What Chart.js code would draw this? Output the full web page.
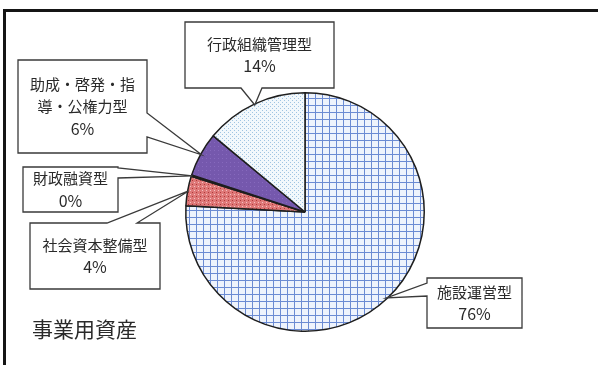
<!DOCTYPE html>
<html>
<head>
<meta charset="utf-8">
<script src="https://cdn.jsdelivr.net/npm/chart.js@4.4.1/dist/chart.umd.min.js"></script>
<style>
html,body{margin:0;padding:0;background:#fff;}
#wrap{position:relative;width:598px;height:365px;}
</style>
</head>
<body>
<div id="wrap"><canvas id="c" width="598" height="365"></canvas></div>
<script>
// ---- data ----
const categories = ['施設運営型', '社会資本整備型', '財政融資型', '助成・啓発・指導・公権力型', '行政組織管理型'];
const values = [76, 4, 0.2, 6, 14];
const chartTitle = '事業用資産';

// ---- patterns ----
function makePattern(size, draw) {
  const c = document.createElement('canvas');
  c.width = size; c.height = size;
  const g = c.getContext('2d');
  draw(g, size);
  return document.getElementById('c').getContext('2d').createPattern(c, 'repeat');
}
const gridPat = makePattern(7, (g, s) => {
  g.fillStyle = '#eef3fc'; g.fillRect(0, 0, s, s);
  g.fillStyle = '#6b8bd3'; g.fillRect(0, 0, s, 1); g.fillRect(0, 0, 1, s);
});
const redPat = makePattern(4, (g, s) => {
  g.fillStyle = '#de7878'; g.fillRect(0, 0, s, s);
  g.fillStyle = '#b03838'; g.fillRect(0, 0, 1, 1);
  g.fillStyle = '#f4c2c2'; g.fillRect(2, 2, 1, 1);
});
const purplePat = makePattern(4, (g, s) => {
  g.fillStyle = '#7558ad'; g.fillRect(0, 0, s, s);
  g.fillStyle = '#8669bd'; g.fillRect(2, 2, 1, 1);
});
const lightPat = makePattern(4, (g, s) => {
  g.fillStyle = '#f2f8fc'; g.fillRect(0, 0, s, s);
  g.fillStyle = '#9fc4e2'; g.fillRect(0, 0, 1, 1); g.fillRect(2, 2, 1, 1);
});
const fills = [gridPat, redPat, '#d98a8a', purplePat, lightPat];

// callout box layout (one per category, same order)
const boxes = [
  {x: 427, y: 278, w: 95,  h: 50, edge: 'left',   a: 283, b: 296},
  {x: 30,  y: 223, w: 130, h: 66, edge: 'top',    a: 107, b: 137},
  {x: 23,  y: 167, w: 95,  h: 45, edge: 'right',  a: 168, b: 178},
  {x: 18,  y: 60,  w: 129, h: 93, edge: 'right',  a: 113, b: 137},
  {x: 185, y: 22,  w: 149, h: 66, edge: 'bottom', a: 241, b: 262}
];

const FONT = '"Noto Sans CJK JP", "Noto Sans", sans-serif';

function wrapText(ctx, text, maxW) {
  const lines = []; let cur = '';
  for (const ch of text) {
    if (ctx.measureText(cur + ch).width > maxW && cur) { lines.push(cur); cur = ch; }
    else cur += ch;
  }
  if (cur) lines.push(cur);
  return lines;
}

const calloutPlugin = {
  id: 'callouts',
  beforeDraw(chart) {
    const ctx = chart.ctx;
    ctx.save();
    ctx.fillStyle = '#fff'; ctx.fillRect(0, 0, chart.width, chart.height);
    ctx.fillStyle = '#151515';
    ctx.fillRect(3, 9, 595, 3);
    ctx.fillRect(3, 9, 3, 356);
    ctx.restore();
  },
  afterDatasetsDraw(chart) {
    const ctx = chart.ctx;
    const meta = chart.getDatasetMeta(0);
    const total = values.reduce((s, v) => s + v, 0);
    ctx.save();
    meta.data.forEach((arc, i) => {
      const bx = boxes[i];
      const mid = (arc.startAngle + arc.endAngle) / 2;
      const tx = arc.x + Math.cos(mid) * (arc.outerRadius - 1);
      const ty = arc.y + Math.sin(mid) * (arc.outerRadius - 1);
      const {x, y, w, h, edge, a, b} = bx;
      const pts = [[x, y]];
      if (edge === 'top') pts.push([a, y], [tx, ty], [b, y]);
      pts.push([x + w, y]);
      if (edge === 'right') pts.push([x + w, a], [tx, ty], [x + w, b]);
      pts.push([x + w, y + h]);
      if (edge === 'bottom') pts.push([b, y + h], [tx, ty], [a, y + h]);
      pts.push([x, y + h]);
      if (edge === 'left') pts.push([x, b], [tx, ty], [x, a]);
      ctx.beginPath();
      pts.forEach((p, k) => k ? ctx.lineTo(p[0], p[1]) : ctx.moveTo(p[0], p[1]));
      ctx.closePath();
      ctx.fillStyle = '#ffffff';
      ctx.fill();
      ctx.lineWidth = 1.3;
      ctx.strokeStyle = '#3a3a3a';
      ctx.stroke();

      ctx.font = '15px ' + FONT;
      ctx.fillStyle = '#2a2a2a';
      ctx.textAlign = 'center';
      ctx.textBaseline = 'middle';
      const lines = wrapText(ctx, categories[i], w - 14);
      lines.push(Math.round(values[i] / total * 100) + '%');
      const lh = 22;
      const cy = y + h / 2 - (lines.length - 1) * lh / 2;
      lines.forEach((ln, k) => {
        ctx.font = (k === lines.length - 1 ? '16px ' : '15px ') + FONT;
        ctx.fillText(ln, x + w / 2, cy + k * lh);
      });
    });
    ctx.font = '21px ' + FONT;
    ctx.fillStyle = '#2a2a2a';
    ctx.textAlign = 'left';
    ctx.textBaseline = 'middle';
    ctx.fillText(chartTitle, 32, 329);
    ctx.restore();
  }
};

new Chart(document.getElementById('c'), {
  type: 'pie',
  data: {
    labels: categories,
    datasets: [{
      data: values,
      backgroundColor: fills,
      borderColor: '#1e1e1e',
      borderWidth: 1.5
    }]
  },
  options: {
    responsive: false,
    animation: false,
    layout: {padding: {left: 185, right: 173, top: 92, bottom: 33}},
    plugins: {legend: {display: false}, tooltip: {enabled: false}}
  },
  plugins: [calloutPlugin]
});
</script>
</body>
</html>
